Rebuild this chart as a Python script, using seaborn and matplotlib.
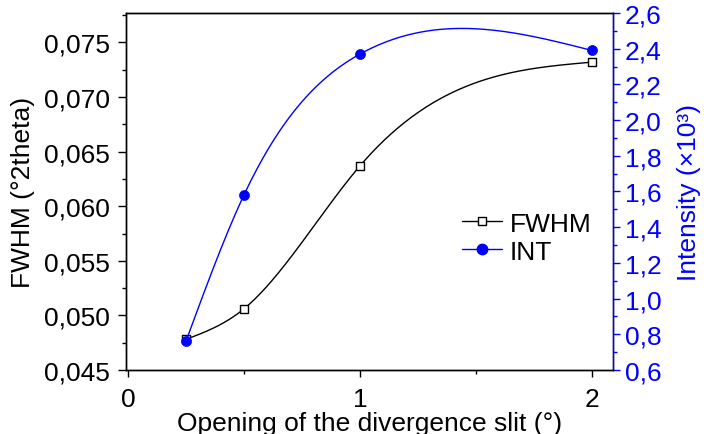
import numpy as np
import pandas as pd
import matplotlib
matplotlib.use("Agg")
import matplotlib.pyplot as plt
from matplotlib.ticker import MultipleLocator, FuncFormatter
from matplotlib.lines import Line2D
import seaborn as sns

# Measured data
opening = [0.25, 0.5, 1.0, 2.0]
fwhm = [0.0478, 0.0506, 0.0637, 0.0732]
intensity = [0.76, 1.58, 2.37, 2.39]

sns.set_theme(style="white")
plt.rcParams["font.family"] = ["Liberation Sans", "DejaVu Sans"]
plt.rcParams["text.color"] = "black"
plt.rcParams["axes.labelcolor"] = "black"


def natural_spline(x, y, xs):
    x = np.asarray(x, float)
    y = np.asarray(y, float)
    n = len(x)
    h = np.diff(x)
    A = np.zeros((n, n))
    r = np.zeros(n)
    A[0, 0] = A[-1, -1] = 1.0
    for i in range(1, n - 1):
        A[i, i - 1] = h[i - 1]
        A[i, i] = 2 * (h[i - 1] + h[i])
        A[i, i + 1] = h[i]
        r[i] = 6 * ((y[i + 1] - y[i]) / h[i] - (y[i] - y[i - 1]) / h[i - 1])
    M = np.linalg.solve(A, r)
    idx = np.clip(np.searchsorted(x, xs) - 1, 0, n - 2)
    x0, x1 = x[idx], x[idx + 1]
    hh = x1 - x0
    return (M[idx] * (x1 - xs) ** 3 / (6 * hh)
            + M[idx + 1] * (xs - x0) ** 3 / (6 * hh)
            + (y[idx] / hh - M[idx] * hh / 6) * (x1 - xs)
            + (y[idx + 1] / hh - M[idx + 1] * hh / 6) * (xs - x0))


xs = np.linspace(opening[0], opening[-1], 300)
curve = pd.DataFrame({"x": xs,
                      "fwhm": natural_spline(opening, fwhm, xs),
                      "int": natural_spline(opening, intensity, xs)})
pts = pd.DataFrame({"x": opening, "fwhm": fwhm, "int": intensity})

fig = plt.figure(figsize=(7.04, 4.35), dpi=100)
ax = fig.add_axes([126 / 704, 1 - 371 / 435, (613 - 126) / 704, (371 - 14) / 435])
ax2 = ax.twinx()

blue = "#0000ff"

sns.lineplot(data=curve, x="x", y="fwhm", ax=ax, color="black", lw=1.0,
             estimator=None, sort=False)
sns.scatterplot(data=pts, x="x", y="fwhm", ax=ax, marker="s", s=36,
                facecolor="white", edgecolor="black", linewidth=1.0, zorder=3)

sns.lineplot(data=curve, x="x", y="int", ax=ax2, color=blue, lw=1.0,
             estimator=None, sort=False)
sns.scatterplot(data=pts, x="x", y="int", ax=ax2, marker="o", s=52,
                color=blue, edgecolor=blue, linewidth=0.5, zorder=4)

ax.set_xlim(-0.008, 2.09)
ax.set_ylim(0.045, 0.0777)
ax2.set_ylim(0.6, 2.6)

comma = lambda fmt: FuncFormatter(lambda v, p: (fmt % v).replace(".", ","))
ax.xaxis.set_major_locator(MultipleLocator(1))
ax.xaxis.set_minor_locator(MultipleLocator(0.5))
ax.xaxis.set_major_formatter(FuncFormatter(lambda v, p: "%d" % round(v)))
ax.yaxis.set_major_locator(MultipleLocator(0.005))
ax.yaxis.set_minor_locator(MultipleLocator(0.0025))
ax.yaxis.set_major_formatter(comma("%.3f"))
ax2.yaxis.set_major_locator(MultipleLocator(0.2))
ax2.yaxis.set_minor_locator(MultipleLocator(0.1))
ax2.yaxis.set_major_formatter(comma("%.1f"))

for a in (ax, ax2):
    for s in a.spines.values():
        s.set_color("black")
        s.set_linewidth(1.0)
ax2.spines["right"].set_color(blue)

ax.tick_params(axis="y", which="major", direction="out", length=5.8, width=1,
               labelsize=19, color="black", labelcolor="black", pad=5.5, left=True)
ax.tick_params(axis="x", which="major", direction="out", length=5, width=1,
               labelsize=19, color="black", labelcolor="black", pad=7, bottom=True)
ax.tick_params(axis="both", which="minor", direction="out", length=3, width=1,
               color="black", bottom=True, left=True)
ax2.tick_params(axis="y", which="major", direction="out", length=5, width=1,
                labelsize=19, color=blue, labelcolor=blue, pad=3.5, right=True)
ax2.tick_params(axis="y", which="minor", direction="out", length=3, width=1,
                color=blue, right=True)

ax.set_xlabel("Opening of the divergence slit (°)", fontsize=19, labelpad=0,
              color="black")
ax.set_ylabel("FWHM (°2theta)", fontsize=19, labelpad=7, color="black")
ax2.set_ylabel("Intensity (×10³)", fontsize=19, color=blue, labelpad=11)

handles = [
    Line2D([], [], color="black", lw=1.0, marker="s", markersize=5.5,
           markerfacecolor="white", markeredgecolor="black"),
    Line2D([], [], color=blue, lw=1.0, marker="o", markersize=7.5,
           markerfacecolor=blue, markeredgecolor=blue),
]
leg = ax2.legend(handles, ["FWHM", "INT"], loc="center left",
                 bbox_to_anchor=(0.69, 0.371), frameon=False, fontsize=19,
                 handlelength=1.5, handletextpad=0.3, labelspacing=0.15,
                 borderpad=0, borderaxespad=0)
for t in leg.get_texts():
    t.set_color("black")

fig.savefig("out.png", dpi=100)
